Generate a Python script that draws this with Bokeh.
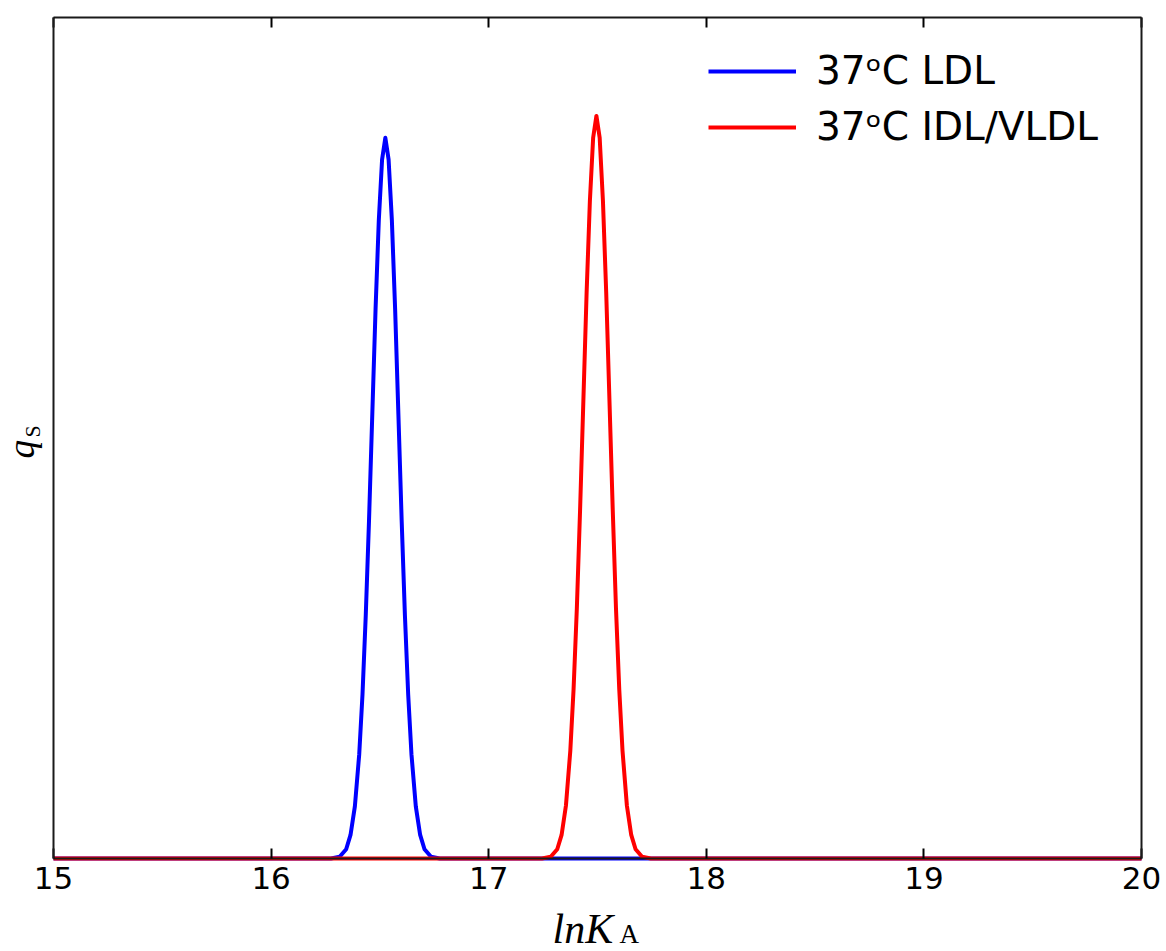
import math
from bokeh.plotting import figure
from bokeh.models import (Range1d, LinearAxis, FixedTicker, Legend, LegendItem, Label)
from bokeh.embed import file_html
from bokeh.resources import INLINE

# ---- data ----
x_ticks = [15, 16, 17, 18, 19, 20]
x_lim = (15, 20)
y_lim = (0, 1)

ldl_x = [15.0, 16.275, 16.315, 16.345, 16.365, 16.385, 16.405, 16.42, 16.435, 16.45,
         16.465, 16.48, 16.495, 16.51, 16.525, 16.54, 16.555, 16.57, 16.585, 16.60,
         16.615, 16.63, 16.645, 16.665, 16.685, 16.705, 16.735, 16.775, 20.0]
ldl_y = [0.0, 0.0, 0.002, 0.011, 0.028, 0.062, 0.124, 0.195, 0.289, 0.402,
         0.528, 0.653, 0.759, 0.831, 0.857, 0.831, 0.759, 0.653, 0.528, 0.402,
         0.289, 0.195, 0.124, 0.062, 0.028, 0.011, 0.002, 0.0, 0.0]

vldl_x = [15.0, 17.245, 17.285, 17.315, 17.335, 17.355, 17.375, 17.39, 17.405, 17.42,
          17.435, 17.45, 17.465, 17.48, 17.495, 17.51, 17.525, 17.54, 17.555, 17.57,
          17.585, 17.60, 17.615, 17.635, 17.655, 17.675, 17.705, 17.745, 20.0]
vldl_y = [0.0, 0.0, 0.002, 0.011, 0.028, 0.063, 0.128, 0.201, 0.297, 0.415,
          0.544, 0.673, 0.782, 0.857, 0.883, 0.857, 0.782, 0.673, 0.544, 0.415,
          0.297, 0.201, 0.128, 0.063, 0.028, 0.011, 0.002, 0.0, 0.0]

series_labels = ["37\u1d52C LDL", "37\u1d52C IDL/VLDL"]

# ---- layout: the frame fills the page; the axes box is drawn with fixed-location axes ----
W, H = 1166, 951
box_l, box_r, box_t, box_b = 53, 1141, 17, 858
xs = (box_r - box_l) / (x_lim[1] - x_lim[0])
ys = (box_b - box_t) / (y_lim[1] - y_lim[0])
x_range = Range1d(x_lim[0] - box_l / xs, x_lim[1] + (W - box_r) / xs)
y_range = Range1d(y_lim[0] - (H - box_b) / ys, y_lim[1] + box_t / ys)

p = figure(frame_width=W, frame_height=H, x_range=x_range, y_range=y_range,
           x_axis_location=None, y_axis_location=None,
           output_backend="svg", toolbar_location=None,
           min_border=0, min_border_left=0, min_border_right=0,
           min_border_top=0, min_border_bottom=0)
p.background_fill_color = "white"
p.border_fill_color = "white"
p.outline_line_color = None
p.xgrid.visible = False
p.ygrid.visible = False

spine = dict(axis_line_color="#1a1a1a", axis_line_width=2,
             major_tick_line_color="black", major_tick_line_width=2,
             minor_tick_line_color=None)

bottom = LinearAxis(fixed_location=y_lim[0], bounds=x_lim, ticker=FixedTicker(ticks=x_ticks),
                    major_tick_in=10, major_tick_out=0,
                    major_label_text_font="DejaVu Sans", major_label_text_font_size="31px",
                    major_label_text_color="black", major_label_standoff=8, **spine)
p.add_layout(bottom, "below")

top = LinearAxis(fixed_location=y_lim[1], bounds=x_lim, ticker=FixedTicker(ticks=x_ticks),
                 major_tick_in=10, major_tick_out=0,
                 major_label_text_color=None, **spine)
p.add_layout(top, "above")

left = LinearAxis(fixed_location=x_lim[0], bounds=y_lim, ticker=FixedTicker(ticks=[]),
                  major_tick_line_color=None, major_label_text_color=None,
                  axis_line_color="#1a1a1a", axis_line_width=2, minor_tick_line_color=None)
p.add_layout(left, "left")
right = LinearAxis(fixed_location=x_lim[1], bounds=y_lim, ticker=FixedTicker(ticks=[]),
                   major_tick_line_color=None, major_label_text_color=None,
                   axis_line_color="#1a1a1a", axis_line_width=2, minor_tick_line_color=None)
p.add_layout(right, "right")

r1 = p.line(ldl_x, ldl_y, line_color="blue", line_width=4, line_join="round")
r2 = p.line(vldl_x, vldl_y, line_color="red", line_width=4, line_join="round")

legend = Legend(items=[LegendItem(label=series_labels[0], renderers=[r1]),
                       LegendItem(label=series_labels[1], renderers=[r2])],
                location=(708, 802), padding=0, margin=0,
                border_line_alpha=0, background_fill_alpha=0,
                glyph_width=88, glyph_height=40, label_height=40,
                spacing=11, label_standoff=20,
                label_text_font="DejaVu Sans", label_text_font_size="39px",
                label_text_color="black", label_text_baseline="middle")
p.add_layout(legend, "center")

def px_to_x(px):
    return x_lim[0] + (px - box_l) / xs

def py_to_y(py):
    return y_lim[0] + (box_b - py) / ys

# axis labels (mathtext-like)
p.add_layout(Label(x=px_to_x(552), y=py_to_y(928), text="lnK",
                   text_font="Liberation Serif", text_font_style="italic",
                   text_font_size="42px", text_color="black",
                   text_align="left", text_baseline="alphabetic"))
p.add_layout(Label(x=px_to_x(619), y=py_to_y(933), text="A",
                   text_font="Liberation Serif",
                   text_font_size="27px", text_color="black",
                   text_align="left", text_baseline="alphabetic"))
p.add_layout(Label(x=px_to_x(21), y=py_to_y(458), text="q",
                   text_font="Liberation Serif", text_font_style="italic",
                   text_font_size="37px", text_color="black", angle=math.pi / 2,
                   text_align="left", text_baseline="alphabetic"))
p.add_layout(Label(x=px_to_x(32), y=py_to_y(437), text="S",
                   text_font="Liberation Serif",
                   text_font_size="22px", text_color="black", angle=math.pi / 2,
                   text_align="left", text_baseline="alphabetic"))

open("out.html", "w").write(file_html(p, INLINE))
